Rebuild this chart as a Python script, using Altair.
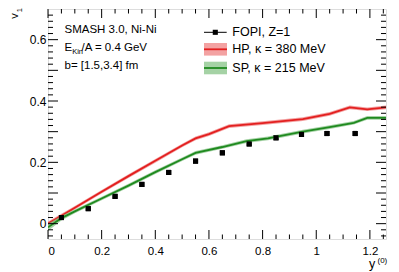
import altair as alt
import pandas as pd

# ---------------- data ----------------
fopi_x = [0.05, 0.15, 0.25, 0.35, 0.45, 0.55, 0.65, 0.75, 0.85, 0.945, 1.04, 1.145]
fopi_y = [0.020, 0.049, 0.089, 0.128, 0.167, 0.204, 0.231, 0.260, 0.280, 0.291, 0.294, 0.294]
fopi_err = [0.0, 0.0, 0.0, 0.0, 0.0, 0.0, 0.004, 0.005, 0.005, 0.005, 0.006, 0.006]

hp_x = [0, 0.05, 0.1, 0.2, 0.3, 0.4, 0.5, 0.55, 0.6, 0.675, 0.8, 0.95, 1.05, 1.125, 1.19, 1.26]
hp_y = [0.000, 0.026, 0.052, 0.104, 0.155, 0.205, 0.255, 0.278, 0.292, 0.318, 0.328, 0.341, 0.358, 0.379, 0.373, 0.379]
hp_err = [0.007, 0.006, 0.006, 0.006, 0.006, 0.006, 0.006, 0.006, 0.006, 0.006, 0.006, 0.006, 0.006, 0.006, 0.006, 0.006]

sp_x = [0, 0.05, 0.1, 0.2, 0.3, 0.4, 0.5, 0.55, 0.65, 0.74, 0.82, 0.95, 1.05, 1.14, 1.19, 1.26]
sp_y = [-0.012, 0.018, 0.040, 0.082, 0.124, 0.168, 0.210, 0.231, 0.250, 0.269, 0.278, 0.300, 0.315, 0.329, 0.345, 0.345]
sp_err = [0.012, 0.008, 0.006, 0.006, 0.006, 0.006, 0.006, 0.006, 0.006, 0.006, 0.006, 0.006, 0.006, 0.006, 0.006, 0.006]

x_major = [0, 0.2, 0.4, 0.6, 0.8, 1.0, 1.2]
x_minor = [0.05, 0.1, 0.15, 0.25, 0.3, 0.35, 0.45, 0.5, 0.55, 0.65, 0.7, 0.75,
           0.85, 0.9, 0.95, 1.05, 1.1, 1.15, 1.25]
y_major = [0, 0.1, 0.2, 0.3, 0.4, 0.5, 0.6]
y_minor = [-0.04, -0.02, 0.02, 0.04, 0.06, 0.08, 0.12, 0.14, 0.16, 0.18, 0.22, 0.24,
           0.26, 0.28, 0.32, 0.34, 0.36, 0.38, 0.42, 0.44, 0.46, 0.48, 0.52, 0.54,
           0.56, 0.58, 0.62, 0.64, 0.66, 0.68]

legend_labels = ["FOPI, Z=1", "HP, \u03ba = 380 MeV", "SP, \u03ba = 215 MeV"]

# ---------------- styling ----------------
W, H = 338, 230
FONT = "Liberation Sans"
RED, RED_BAND = "#e31f1f", "#ee7b7b"
GREEN, GREEN_BAND = "#1f8a1f", "#7fbf7f"

xs = alt.Scale(domain=[0, 1.26], nice=False, zero=False)
ys = alt.Scale(domain=[-0.05, 0.7], nice=False, zero=False)

fopi = pd.DataFrame({"x": fopi_x, "y": fopi_y,
                     "lo": [a - b for a, b in zip(fopi_y, fopi_err)],
                     "hi": [a + b for a, b in zip(fopi_y, fopi_err)]})
hp = pd.DataFrame({"x": hp_x, "y": hp_y,
                   "lo": [a - b for a, b in zip(hp_y, hp_err)],
                   "hi": [a + b for a, b in zip(hp_y, hp_err)]})
sp = pd.DataFrame({"x": sp_x, "y": sp_y,
                   "lo": [a - b for a, b in zip(sp_y, sp_err)],
                   "hi": [a + b for a, b in zip(sp_y, sp_err)]})

xaxis = alt.Axis(values=x_major, format="~g", ticks=False, domain=False, grid=False,
                 labelFont=FONT, labelFontSize=11.5, labelColor="black",
                 labelPadding=6, title=None)
yaxis = alt.Axis(values=y_major, format="~g", ticks=False, domain=False, grid=False,
                 labelFont=FONT, labelFontSize=12, labelColor="black",
                 labelPadding=2, title=None)

base_x = alt.X("x:Q", scale=xs, axis=xaxis)
base_y = alt.Y("y:Q", scale=ys, axis=yaxis)

def band(df, color):
    return alt.Chart(df).mark_area(color=color, opacity=0.7, clip=True).encode(
        x=alt.X("x:Q", scale=xs), y=alt.Y("lo:Q", scale=ys), y2="hi:Q")

def line(df, color):
    return alt.Chart(df).mark_line(color=color, strokeWidth=1.8, clip=True).encode(
        x=alt.X("x:Q", scale=xs), y=alt.Y("y:Q", scale=ys))

points = alt.Chart(fopi).mark_point(shape="square", filled=True, size=26,
                                    color="black", opacity=1).encode(x=base_x, y=base_y)
errs = alt.Chart(fopi).mark_rule(color="black", strokeWidth=2.2).encode(
    x=alt.X("x:Q", scale=xs), y=alt.Y("lo:Q", scale=ys), y2="hi:Q")

# ---------------- ticks (ROOT-style, inward, all four sides) ----------------
def xticks(vals, length):
    d = pd.DataFrame({"x": vals})
    b = alt.Chart(d).mark_rule(color="black", strokeWidth=1).encode(
        x=alt.X("x:Q", scale=xs), y=alt.value(H), y2=alt.value(H - length))
    t = alt.Chart(d).mark_rule(color="black", strokeWidth=1).encode(
        x=alt.X("x:Q", scale=xs), y=alt.value(0), y2=alt.value(length))
    return b + t

def yticks(vals, length):
    d = pd.DataFrame({"y": vals})
    l = alt.Chart(d).mark_rule(color="black", strokeWidth=1).encode(
        y=alt.Y("y:Q", scale=ys), x=alt.value(0), x2=alt.value(length))
    r = alt.Chart(d).mark_rule(color="black", strokeWidth=1).encode(
        y=alt.Y("y:Q", scale=ys), x=alt.value(W), x2=alt.value(W - length))
    return l + r

ticks = xticks(x_major, 9) + xticks(x_minor, 4.5) + yticks(y_major, 10) + yticks(y_minor, 5)

# ---------------- text annotations ----------------
def txt(s, x, y, size, **kw):
    return alt.Chart(pd.DataFrame({"t": [s]})).mark_text(
        font=FONT, fontSize=size, color="black", align=kw.pop("align", "left"),
        baseline=kw.pop("baseline", "alphabetic"), **kw).encode(
        text="t:N", x=alt.value(x), y=alt.value(y))

annot = (txt("SMASH 3.0, Ni-Ni", 16.5, 24.3, 11.5)
         + txt("E", 16.5, 41.7, 11.5)
         + txt("Kin", 24.2, 44.8, 7.5)
         + txt("/A = 0.4 GeV", 33.5, 41.7, 11.5)
         + txt("b= [1.5,3.4] fm", 16.5, 60.3, 11.5)
         + txt("v", -30.0, 7.0, 11, angle=270, align="center")
         + txt("1", -26.0, 1.2, 7.5, angle=270, align="center")
         + txt("y", 321, 259.0, 12.5)
         + txt("(0)", 329.5, 253.5, 8))

# ---------------- legend ----------------
leg_line = alt.Chart(pd.DataFrame({"a": [0]})).mark_rule(color="black", strokeWidth=1).encode(
    x=alt.value(156), x2=alt.value(178.7), y=alt.value(23.3))
leg_pt = alt.Chart(pd.DataFrame({"a": [0]})).mark_point(
    shape="square", filled=True, size=26, color="black", opacity=1).encode(
    x=alt.value(167.3), y=alt.value(23.3))

def leg_band(yc, band_c, line_c):
    r = alt.Chart(pd.DataFrame({"a": [0]})).mark_rect(color=band_c, opacity=0.7).encode(
        x=alt.value(156), x2=alt.value(179), y=alt.value(yc - 6.3), y2=alt.value(yc + 6.3))
    l = alt.Chart(pd.DataFrame({"a": [0]})).mark_rule(color=line_c, strokeWidth=1.8).encode(
        x=alt.value(156), x2=alt.value(179), y=alt.value(yc))
    return r + l

legend = (leg_line + leg_pt
          + leg_band(40.3, RED_BAND, RED) + leg_band(59.0, GREEN_BAND, GREEN)
          + txt(legend_labels[0], 184.3, 23.3, 12.5, baseline="middle")
          + txt(legend_labels[1], 184.3, 40.3, 12.5, baseline="middle")
          + txt(legend_labels[2], 184.3, 59.0, 12.5, baseline="middle"))

chart = alt.layer(
    points, band(hp, RED_BAND), line(hp, RED), band(sp, GREEN_BAND), line(sp, GREEN),
    errs, points, ticks, annot, legend
).properties(
    width=W, height=H,
    padding={"left": 40, "top": 1, "right": 5, "bottom": 33},
    autosize=alt.AutoSizeParams(type="none"),
).configure_view(stroke="black", strokeWidth=1).configure(background="white")

chart.save("out.html", embed_options={"renderer": "svg", "actions": False})
